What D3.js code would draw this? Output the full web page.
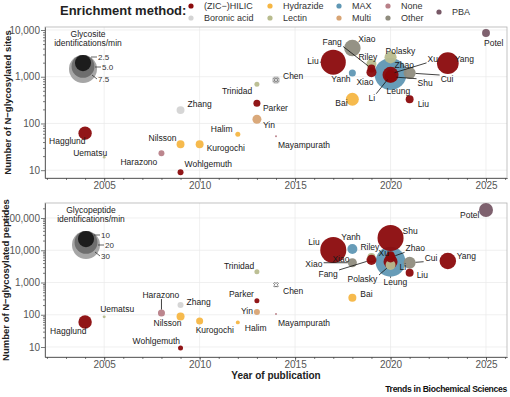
<!DOCTYPE html>
<html>
<head>
<meta charset="utf-8">
<script src="https://cdn.jsdelivr.net/npm/d3@7"></script>
<style>
body { margin: 0; background: #fff; font-family: "Liberation Sans", Arial, sans-serif; }
</style>
</head>
<body>
<div id="chart"></div>
<script>
// enrichment methods and colours
var methods = ["(ZIC−)HILIC", "Boronic acid", "Hydrazide", "Lectin", "MAX", "Multi", "None", "Other", "PBA"];
var methodColors = ["#8b0a0c", "#d4d4d4", "#f6b643", "#b8bc8e", "#5f97b4", "#d8a474", "#b88088", "#8f8c7e", "#775866"];

// studies (same order in both panels)
var authors = ["Hagglund", "Uematsu", "Harazono", "Nilsson", "Zhang", "Wohlgemuth", "Kurogochi", "Halim", "Trinidad", "Parker",
	"Yin", "Mayampurath", "Chen", "Liu", "Xiao", "Yanh", "Bai", "Riley", "Xiao", "Fang",
	"Xu", "Polasky", "Leung", "Li", "Zhao", "Shu", "Cui", "Liu", "Yang", "Potel"];
var years = [2004, 2005, 2008, 2009, 2009, 2009, 2010, 2012, 2013, 2013,
	2013, 2014, 2014, 2017, 2018, 2018, 2018, 2019, 2019, 2019,
	2020, 2020, 2020, 2020, 2020, 2020, 2021, 2021, 2023, 2025];
var methodOf = ["(ZIC−)HILIC", "Lectin", "None", "Hydrazide", "Boronic acid", "(ZIC−)HILIC", "Hydrazide", "Hydrazide", "Lectin", "(ZIC−)HILIC",
	"Multi", "None", "Boronic acid", "(ZIC−)HILIC", "Other", "MAX", "Hydrazide", "Lectin", "(ZIC−)HILIC", "(ZIC−)HILIC",
	"(ZIC−)HILIC", "Lectin", "MAX", "(ZIC−)HILIC", "(ZIC−)HILIC", "(ZIC−)HILIC", "Other", "(ZIC−)HILIC", "(ZIC−)HILIC", "PBA"];

// top panel: N-glycosylated sites and glycosite identifications/min
var sites = [62, 19, 23, 36, 193, 9, 36, 59, 690, 270,
	123, 53, 850, 2050, 4100, 1200, 330, 1870, 1250, 1500,
	1150, 2600, 1150, 1050, 1100, 1000, 1200, 330, 1950, 8600];
var siteRate = [1.7, 0.07, 0.34, 0.6, 0.6, 0.34, 0.6, 0.24, 0.24, 0.47,
	0.77, 0.04, null, 6.0, 2.6, 0.47, 1.6, 0.96, 0.96, 0.6,
	0.7, 1.4, 9.8, 0.96, 2.45, 1.3, 1.4, 0.6, 4.5, 0.6];

// bottom panel: N-glycosylated peptides and glycopeptide identifications/min
var peptides = [60, 86, 113, 88, 200, 9.3, 64, 58, 2150, 270,
	122, 105, 850, 10200, 4100, 11000, 335, 6200, 5500, 5000,
	7000, 3500, 4400, 4400, 6000, 24000, 4100, 2000, 4650, 178000];
var peptideRate = [6.9, 0.34, 1.9, 2.45, 1.4, 0.96, 1.9, 0.6, 0.96, 0.96,
	1.4, 0.15, null, 26, 3.1, 3.8, 2.45, 2.45, 2.45, 3.8,
	2.45, 3.8, 34, 7.5, 3.8, 26, 5.5, 2.45, 10.5, 7.5];

// label nudges (dx, dy in px, leader line) - like ggrepel output
var topNudge = [[-36, 8], [-31, -4], [-41, 9], [-32, -6], [7, -6], [4, -8], [7, 4], [-27, -5], [-35, 7], [6, 5],
	[6, 6], [2, 9], [7, -4], [-26, -1, 1], [6, -9], [-21, 6], [-17, 4], [-13, -7], [-15, 10], [-49, -26, 1],
	[37, -15, 1], [-5, -6], [-4, 17], [-22, 22, 1], [4, -10], [27, 6, 1], [31, 6, 1], [8, 5], [7, -4], [-2, 10]];
var bottomNudge = [[-35, 9], [-4, -8], [-19, -18, 1], [-27, 6], [6, -3], [-48, -7], [-4, 9], [7, 6], [-33, -6], [-28, -7],
	[-16, -1], [2, 9], [7, 6], [-25, -8, 1], [-47, 1, 1], [-11, -12], [8, -4], [-11, -10], [-39, 0], [-53, 14, 1],
	[-12, -2], [-43, 14, 1], [-7, 20, 1], [9, 5], [15, -9, 1], [12, -7], [15, -5, 1], [7, 2], [9, -5], [-26, 5]];

var yearTicks = [2005, 2010, 2015, 2020, 2025];
var siteTicks = [10, 100, 1000, 10000];
var peptideTicks = [10, 100, 1000, 10000, 100000];
var siteLegend = [2.5, 5.0, 7.5];
var peptideLegend = [10, 20, 30];

var width = 510, height = 397;
var svg = d3.select("#chart").append("svg")
	.attr("width", width)
	.attr("height", height);

var color = d3.scaleOrdinal().domain(methods).range(methodColors);
var x = d3.scaleLinear().domain([2001.9, 2026.1]).range([45, 507]);

// legend for enrichment method
svg.append("text")
	.attr("x", 60).attr("y", 14.5)
	.style("font-weight", "bold")
	.style("font-size", "13px")
	.attr("fill", "#222")
	.text("Enrichment method:");

var legendPos = [[191, 6], [191, 18], [270, 6], [270, 18], [339, 6], [339, 18], [388, 6], [388, 18], [439, 12]];
var leg = svg.append("g").selectAll("g")
	.data(methods)
	.join("g")
	.attr("transform", (d, i) => `translate(${legendPos[i][0]},${legendPos[i][1]})`);
leg.append("circle").attr("r", 2.6).attr("fill", d => color(d));
leg.append("text")
	.attr("x", 13).attr("dy", "0.35em")
	.style("font-size", "9px")
	.attr("fill", "#333")
	.text(d => d);

drawPanel({
	top: 27, bottom: 178,
	domain: [6.8, 11600],
	values: sites, rates: siteRate, rateMax: 7.5,
	ticks: siteTicks, nudge: topNudge,
	legend: siteLegend, legendFmt: d3.format(".1f"),
	legendTitle: ["Glycosite", "identifications/min"],
	legendX: 83, legendDy: [2, 12, 24],
	title: "Number of N−glycosylated sites", titleX: 8,
	naCircle: true
});

drawPanel({
	top: 203, bottom: 357,
	domain: [4.9, 292000],
	values: peptides, rates: peptideRate, rateMax: 30,
	ticks: peptideTicks, nudge: bottomNudge,
	legend: peptideLegend, legendFmt: d3.format("d"),
	legendTitle: ["Glycopeptide", "identifications/min"],
	legendX: 86, legendDy: [4, 14, 25],
	title: "Number of N−glycosylated peptides", titleX: 6,
	naCircle: false
});

svg.append("text")
	.attr("x", 276).attr("y", 375.5)
	.attr("dy", "0.35em")
	.attr("text-anchor", "middle")
	.style("font-weight", "bold")
	.style("font-size", "10px")
	.attr("fill", "#222")
	.text("Year of publication");

svg.append("text")
	.attr("x", 507).attr("y", 392)
	.attr("text-anchor", "end")
	.style("font-weight", "bold")
	.style("font-size", "8.6px")
	.style("letter-spacing", "-0.3px")
	.attr("fill", "#111")
	.text("Trends in Biochemical Sciences");

function drawPanel(cfg) {
	var g = svg.append("g");
	var y = d3.scaleLog().domain(cfg.domain).range([cfg.bottom, cfg.top]);
	var r = d3.scaleSqrt().domain([0, cfg.rateMax]).range([0, 14]);
	var x0 = x.range()[0], x1 = x.range()[1];

	// grid
	g.selectAll(".gx").data(yearTicks).join("line")
		.attr("x1", d => x(d)).attr("x2", d => x(d))
		.attr("y1", cfg.top).attr("y2", cfg.bottom)
		.attr("stroke", "#e9e9e9").attr("stroke-width", 0.7);
	g.selectAll(".gy").data(cfg.ticks).join("line")
		.attr("x1", x0).attr("x2", x1)
		.attr("y1", d => y(d)).attr("y2", d => y(d))
		.attr("stroke", "#e9e9e9").attr("stroke-width", 0.7);

	g.append("rect")
		.attr("x", x0).attr("y", cfg.top)
		.attr("width", x1 - x0).attr("height", cfg.bottom - cfg.top)
		.attr("fill", "none").attr("stroke", "#b3b3b3").attr("stroke-width", 0.8);

	// axes
	var minorY = [];
	cfg.ticks.forEach(function(t) {
		for (var k = 2; k <= 9; k++) {
			var v = t * k;
			if (v < cfg.domain[1]) minorY.push(v);
		}
	});
	var ya = g.append("g").attr("transform", `translate(${x0},0)`)
		.call(d3.axisLeft(y).tickValues(cfg.ticks).tickFormat(d3.format(",")).tickSize(4).tickSizeOuter(0));
	var ym = g.append("g").attr("transform", `translate(${x0},0)`)
		.call(d3.axisLeft(y).tickValues(minorY).tickFormat("").tickSize(2).tickSizeOuter(0));
	var xa = g.append("g").attr("transform", `translate(0,${cfg.bottom})`)
		.call(d3.axisBottom(x).tickValues(yearTicks).tickFormat(d3.format("d")).tickSize(4).tickSizeOuter(0));
	var xm = g.append("g").attr("transform", `translate(0,${cfg.bottom})`)
		.call(d3.axisBottom(x).tickValues(d3.range(2002, 2027)).tickFormat("").tickSize(2).tickSizeOuter(0));
	[ya, ym, xa, xm].forEach(function(a) {
		a.select(".domain").attr("stroke", "#666").attr("stroke-width", 0.8);
		a.selectAll(".tick line").attr("stroke", "#444").attr("stroke-width", 0.7);
		a.selectAll("text")
			.style("font-family", "Liberation Sans, Arial, sans-serif")
			.style("font-size", "10px")
			.attr("fill", "#555");
	});
	ya.selectAll("text").attr("x", -5);
	xa.selectAll("text").attr("y", 4);

	g.append("text")
		.attr("transform", `translate(${cfg.titleX},${(cfg.top + cfg.bottom) / 2}) rotate(-90)`)
		.attr("text-anchor", "middle")
		.attr("dy", "0.35em")
		.style("font-weight", "bold")
		.style("font-size", "9.5px")
		.attr("fill", "#222")
		.text(cfg.title);

	// points
	var pts = authors.map(function(a, i) {
		return {
			name: a, year: years[i], method: methodOf[i],
			value: cfg.values[i], rate: cfg.rates[i], nudge: cfg.nudge[i],
			px: x(years[i]), py: y(cfg.values[i]),
			r: cfg.rates[i] == null ? 3.5 : Math.max(r(cfg.rates[i]), 1)
		};
	});
	var sorted = pts.filter(d => d.rate != null).sort((a, b) => b.r - a.r);
	g.append("g").selectAll("circle")
		.data(sorted)
		.join("circle")
		.attr("cx", d => d.px)
		.attr("cy", d => d.py)
		.attr("r", d => d.r)
		.attr("fill", d => color(d.method))
		.attr("fill-opacity", 0.95);

	// missing rate: cross marker
	var na = pts.filter(d => d.rate == null);
	if (cfg.naCircle) {
		g.append("g").selectAll("circle").data(na).join("circle")
			.attr("cx", d => d.px).attr("cy", d => d.py).attr("r", 4)
			.attr("fill", d => color(d.method));
	}
	g.append("g").selectAll("path").data(na).join("path")
		.attr("transform", d => `translate(${d.px},${d.py}) rotate(45)`)
		.attr("d", d3.symbol(d3.symbolCross, 14))
		.attr("fill", "none")
		.attr("stroke", "#6e6e6e")
		.attr("stroke-width", 0.9);

	// labels
	var lineG = g.append("g");
	var labels = g.append("g").selectAll("text")
		.data(pts)
		.join("text")
		.attr("x", d => d.px + d.nudge[0])
		.attr("y", d => d.py + d.nudge[1])
		.attr("dy", "0.35em")
		.style("font-size", "8.5px")
		.attr("fill", "#1a1a1a")
		.text(d => d.name);
	labels.each(function(d) {
		if (!d.nudge[2]) return;
		var b = this.getBBox();
		var lx = Math.max(b.x - 1, Math.min(d.px, b.x + b.width + 1));
		var ly = Math.max(b.y + 1, Math.min(d.py, b.y + b.height - 1));
		var dx = d.px - lx, dy = d.py - ly;
		var len = Math.sqrt(dx * dx + dy * dy);
		var k = len > d.r ? (len - d.r) / len : 0;
		lineG.append("line")
			.attr("x1", lx).attr("y1", ly)
			.attr("x2", lx + dx * k).attr("y2", ly + dy * k)
			.attr("stroke", "#111").attr("stroke-width", 0.8);
	});

	// size legend
	var lt = cfg.top + 28;
	var sl = g.append("g");
	sl.selectAll("text.t").data(cfg.legendTitle).join("text")
		.attr("x", cfg.legendX + 5)
		.attr("y", (d, i) => lt - 21 + i * 9)
		.attr("dy", "0.35em")
		.attr("text-anchor", "middle")
		.style("font-size", "8.5px")
		.attr("fill", "#222")
		.text(d => d);
	var shades = ["#1c1c1c", "#6e6e6e", "#a6a6a6"];
	sl.selectAll("circle").data(cfg.legend.slice().reverse()).join("circle")
		.attr("cx", cfg.legendX)
		.attr("cy", d => lt + r(d))
		.attr("r", d => r(d))
		.attr("fill", (d, i) => shades[2 - i]);
	var lbl = sl.selectAll("g.l").data(cfg.legend).join("g")
		.attr("transform", (d, i) => `translate(${cfg.legendX + 15 + (i == 1 ? 4 : 0)},${lt + cfg.legendDy[i]})`);
	lbl.append("line")
		.attr("x1", (d, i) => i == 2 ? -6 : -7).attr("y1", (d, i) => i == 2 ? -4 : 0)
		.attr("x2", -1).attr("y2", 0)
		.attr("stroke", "#222").attr("stroke-width", 0.7);
	lbl.append("text")
		.attr("dy", "0.35em")
		.style("font-size", "8px")
		.attr("fill", "#333")
		.text(d => cfg.legendFmt(d));
}
</script>
</body>
</html>
